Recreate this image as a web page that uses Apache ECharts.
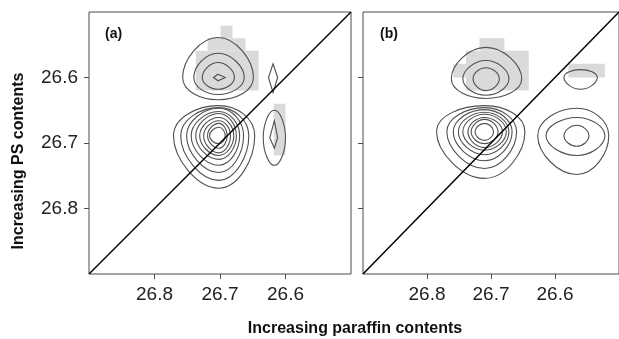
<!DOCTYPE html>
<html>
<head>
<meta charset="utf-8">
<script src="https://cdn.jsdelivr.net/npm/echarts@6/dist/echarts.min.js"></script>
<style>
  html, body { margin: 0; padding: 0; background: #fff; }
  #chart { width: 619px; height: 339px; }
</style>
</head>
<body>
<div id="chart"></div>
<script>
// tick values (ppm)
const xTicks = [26.6, 26.7, 26.8];
const yTicks = [26.6, 26.7, 26.8];
const axisMin = 26.5, axisMax = 26.9;

// contour rings: [x left, x right, y top, y bottom] in ppm, with peak centre [x, y]
// panel (a)
const aTopCenter = [26.703, 26.600];
const aTopRings = [
  [26.757, 26.649, 26.539, 26.634],
  [26.740, 26.663, 26.563, 26.626],
  [26.727, 26.678, 26.577, 26.618],
  [26.710, 26.692, 26.595, 26.605]
];
const aSmallCenter = [26.619, 26.600];
const aSmallRings = [
  [26.626, 26.612, 26.579, 26.623]
];
const aMainCenter = [26.702, 26.689];
const aMainRings = [
  [26.771, 26.647, 26.643, 26.769],
  [26.760, 26.656, 26.646, 26.757],
  [26.751, 26.664, 26.647, 26.745],
  [26.744, 26.670, 26.652, 26.734],
  [26.737, 26.675, 26.655, 26.725],
  [26.731, 26.679, 26.661, 26.719],
  [26.725, 26.684, 26.666, 26.715],
  [26.719, 26.689, 26.670, 26.708],
  [26.716, 26.692, 26.676, 26.701]
];
const aRightCenter = [26.617, 26.692];
const aRightRings = [
  [26.634, 26.600, 26.650, 26.734],
  [26.624, 26.612, 26.666, 26.708]
];
// grey (negative) cells: [x1, x2, y1, y2]
const aGrey = [
  [26.699, 26.681, 26.521, 26.540],
  [26.719, 26.661, 26.540, 26.559],
  [26.737, 26.641, 26.559, 26.620],
  [26.618, 26.600, 26.640, 26.719]
];

// panel (b)
const bTopCenter = [26.708, 26.602];
const bTopRings = [
  [26.762, 26.652, 26.554, 26.632],
  [26.744, 26.672, 26.574, 26.627],
  [26.728, 26.687, 26.585, 26.620]
];
const bSmallCenter = [26.560, 26.600];
const bSmallRings = [
  [26.586, 26.534, 26.588, 26.618]
];
const bMainCenter = [26.710, 26.683];
const bMainRings = [
  [26.785, 26.647, 26.643, 26.754],
  [26.769, 26.660, 26.646, 26.739],
  [26.759, 26.667, 26.649, 26.727],
  [26.751, 26.672, 26.653, 26.718],
  [26.744, 26.676, 26.656, 26.711],
  [26.736, 26.682, 26.661, 26.707],
  [26.731, 26.689, 26.664, 26.701],
  [26.725, 26.696, 26.670, 26.696]
];
const bRightCenter = [26.566, 26.689];
const bRightRings = [
  [26.627, 26.516, 26.647, 26.748],
  [26.614, 26.522, 26.661, 26.719],
  [26.586, 26.547, 26.673, 26.705]
];
const bGrey = [
  [26.718, 26.679, 26.540, 26.559],
  [26.739, 26.641, 26.559, 26.620],
  [26.759, 26.739, 26.579, 26.600],
  [26.579, 26.522, 26.579, 26.600]
];

const diagonal = [[axisMax, axisMax], [axisMin, axisMin]];

const font = "'Liberation Sans', Arial, sans-serif";
const chart = echarts.init(document.getElementById('chart'), null, { renderer: 'canvas' });

function ringItem(params, api) {
  const cx = api.value(4), cy = api.value(5);
  const n = api.coord([cx, api.value(2)]);
  const e = api.coord([api.value(1), cy]);
  const s = api.coord([cx, api.value(3)]);
  const w = api.coord([api.value(0), cy]);
  const small = Math.abs(e[0] - w[0]) < 14;
  return {
    type: 'polygon',
    shape: { points: [n, e, s, w], smooth: small ? 0 : 0.5 },
    style: { fill: 'none', stroke: '#505050', lineWidth: 1.1 }
  };
}

function greyItem(params, api) {
  const p1 = api.coord([api.value(0), api.value(2)]);
  const p2 = api.coord([api.value(1), api.value(3)]);
  return {
    type: 'rect',
    shape: {
      x: Math.min(p1[0], p2[0]), y: Math.min(p1[1], p2[1]),
      width: Math.abs(p2[0] - p1[0]), height: Math.abs(p2[1] - p1[1])
    },
    style: { fill: '#dadada' }
  };
}

function ringSeries(idx, center, rings) {
  return {
    type: 'custom', xAxisIndex: idx, yAxisIndex: idx, z: 3, silent: true,
    renderItem: ringItem, clip: true,
    encode: { x: [0, 1, 4], y: [2, 3, 5] },
    data: rings.map(r => r.concat(center))
  };
}

function greySeries(idx, cells) {
  return {
    type: 'custom', xAxisIndex: idx, yAxisIndex: idx, z: 1, silent: true,
    renderItem: greyItem, clip: true,
    encode: { x: [0, 1], y: [2, 3] },
    data: cells
  };
}

function diagSeries(idx) {
  return {
    type: 'line', xAxisIndex: idx, yAxisIndex: idx, z: 4, silent: true,
    symbol: 'none', data: diagonal,
    lineStyle: { color: '#000', width: 1.5 }
  };
}

function xAxis(idx) {
  return {
    type: 'value', gridIndex: idx, inverse: true,
    min: axisMin, max: axisMax, interval: 0.1,
    axisLine: { show: false },
    splitLine: { show: false },
    axisTick: { show: true, inside: false, length: 5, customValues: xTicks, lineStyle: { color: '#4d4d4d' } },
    axisLabel: {
      show: true, customValues: xTicks, margin: 11,
      fontFamily: font, fontSize: 19, color: '#222',
      formatter: v => v.toFixed(1)
    }
  };
}

function yAxis(idx, labels) {
  return {
    type: 'value', gridIndex: idx, inverse: true,
    min: axisMin, max: axisMax, interval: 0.1,
    axisLine: { show: false },
    splitLine: { show: false },
    axisTick: { show: true, inside: false, length: 5, customValues: yTicks, lineStyle: { color: '#4d4d4d' } },
    axisLabel: {
      show: labels, customValues: yTicks, margin: 11,
      fontFamily: font, fontSize: 19, color: '#222',
      formatter: v => v.toFixed(1)
    }
  };
}

const option = {
  animation: false,
  backgroundColor: '#fff',
  grid: [
    { left: 89, top: 12, width: 262, height: 262, show: true, borderColor: '#4d4d4d', borderWidth: 1, backgroundColor: 'transparent' },
    { left: 363, top: 12, width: 262, height: 262, show: true, borderColor: '#4d4d4d', borderWidth: 1, backgroundColor: 'transparent' }
  ],
  xAxis: [xAxis(0), xAxis(1)],
  yAxis: [yAxis(0, true), yAxis(1, false)],
  graphic: [
    { type: 'text', left: 105, top: 27, style: { text: '(a)', font: 'bold 14px ' + font, fill: '#111' } },
    { type: 'text', left: 380, top: 27, style: { text: '(b)', font: 'bold 14px ' + font, fill: '#111' } },
    { type: 'text', x: 19, y: 161, rotation: Math.PI / 2,
      style: { text: 'Increasing PS contents', font: 'bold 16px ' + font, fill: '#111', align: 'center', verticalAlign: 'middle' } },
    { type: 'text', x: 355, y: 329,
      style: { text: 'Increasing paraffin contents', font: 'bold 16px ' + font, fill: '#111', align: 'center', verticalAlign: 'middle' } }
  ],
  series: [
    greySeries(0, aGrey),
    ringSeries(0, aTopCenter, aTopRings),
    ringSeries(0, aSmallCenter, aSmallRings),
    ringSeries(0, aMainCenter, aMainRings),
    ringSeries(0, aRightCenter, aRightRings),
    diagSeries(0),
    greySeries(1, bGrey),
    ringSeries(1, bTopCenter, bTopRings),
    ringSeries(1, bSmallCenter, bSmallRings),
    ringSeries(1, bMainCenter, bMainRings),
    ringSeries(1, bRightCenter, bRightRings),
    diagSeries(1)
  ]
};
chart.setOption(option);
</script>
</body>
</html>
